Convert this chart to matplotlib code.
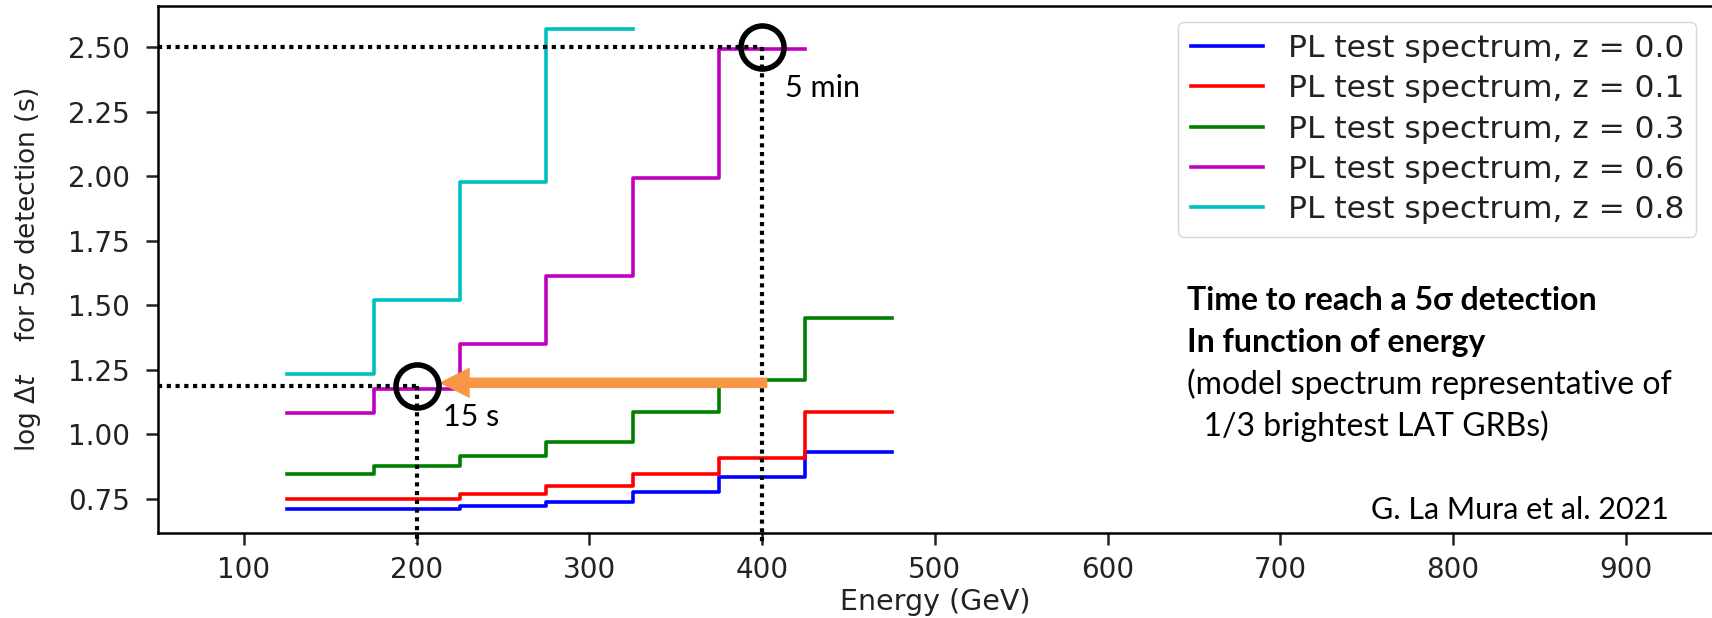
import matplotlib.pyplot as plt

# bin edges (GeV) and log dt per bin
edges = [125, 175, 225, 275, 325, 375, 425, 475]
redshifts = ['0.0', '0.1', '0.3', '0.6', '0.8']
dt_z00 = [0.712, 0.712, 0.722, 0.739, 0.777, 0.837, 0.932]
dt_z01 = [0.751, 0.751, 0.770, 0.800, 0.845, 0.907, 1.086]
dt_z03 = [0.845, 0.878, 0.915, 0.970, 1.086, 1.211, 1.450]
dt_z06 = [1.084, 1.177, 1.350, 1.612, 1.993, 2.495]
dt_z08 = [1.234, 1.520, 1.978, 2.569]
colors = ['b', 'r', 'g', 'm', 'c']

# highlighted points: (energy, log dt)
mark_e = [400, 200]
mark_dt = [2.50, 1.186]
mark_txt = ['5 min', '15 s']
arrow_e = [403, 213]
arrow_dt = 1.20

plt.rcParams['font.size'] = 20
fig = plt.figure(figsize=(17.12, 6.18), dpi=100)
ax = fig.add_axes([0.0921, 0.1375, 0.9079, 0.8528])

for vals, c, z in zip([dt_z00, dt_z01, dt_z03, dt_z06, dt_z08], colors, redshifts):
    x = edges[:len(vals) + 1]
    y = vals + [vals[-1]]
    ax.step(x, y, where='post', color=c, lw=2.6, label=f'PL test spectrum, z = {z}')

ax.set_xlim(50, 950)
ax.set_ylim(0.618, 2.66)
ax.set_yticks([0.75, 1.0, 1.25, 1.5, 1.75, 2.0, 2.25, 2.5])
ax.set_xticks(range(100, 1000, 100))
ax.spines['right'].set_visible(False)
for s in ['left', 'top', 'bottom']:
    ax.spines[s].set_linewidth(1.8)
ax.tick_params(length=8.6, width=1.8, colors='#222222')
ax.tick_params(axis='y', pad=11.5)
ax.tick_params(axis='x', pad=8)
ax.set_xlabel('Energy (GeV)', color='#222222', fontsize=20.5, labelpad=3)
ax.set_ylabel(r'log $\Delta t$    for $5\sigma$ detection (s)', color='#222222',
              fontsize=19)
ax.yaxis.set_label_coords(-0.074, 0.5)

leg = ax.legend(loc='upper right', fontsize=22.5, handlelength=2.3, handletextpad=0.8,
                labelspacing=0.36, borderaxespad=0.5)
for t in leg.get_texts():
    t.set_color('#222222')

# dotted guide lines
dots = dict(color='black', lw=3, ls=(0, (1, 1.1)), clip_on=False, zorder=5)
for e, d in zip(mark_e, mark_dt):
    ax.plot([50, e], [d, d], **dots)
    ax.plot([e, e], [d, 0.575], **dots)

ax.plot(mark_e, mark_dt, 'o', ms=31, mfc='none', mec='black', mew=4, zorder=7)

ax.annotate('', xy=(arrow_e[1], arrow_dt), xytext=(arrow_e[0], arrow_dt),
            arrowprops=dict(arrowstyle='simple,head_length=2.2,head_width=2.2,tail_width=0.76',
                            mutation_scale=10, color='#F79646', lw=0, shrinkA=0, shrinkB=0),
            zorder=6)

fam = ['Lato', 'DejaVu Sans']
ax.text(413, 2.343, mark_txt[0], fontsize=22, family=fam, va='center')
ax.text(215, 1.066, mark_txt[1], fontsize=22, family=fam, va='center')

ax.text(646, 1.519, 'Time to reach a 5σ detection', fontsize=23, family=fam,
        weight='bold', va='center')
ax.text(646, 1.356, 'In function of energy', fontsize=23, family=fam,
        weight='bold', va='center')
ax.text(646, 1.193, '(model spectrum representative of', fontsize=23, family=fam, va='center')
ax.text(646, 1.031, '  1/3 brightest LAT GRBs)', fontsize=23, family=fam, va='center')
ax.text(925, 0.706, 'G. La Mura et al. 2021', fontsize=22, family=fam, ha='right', va='center')

fig.savefig('out.png', dpi=100)
